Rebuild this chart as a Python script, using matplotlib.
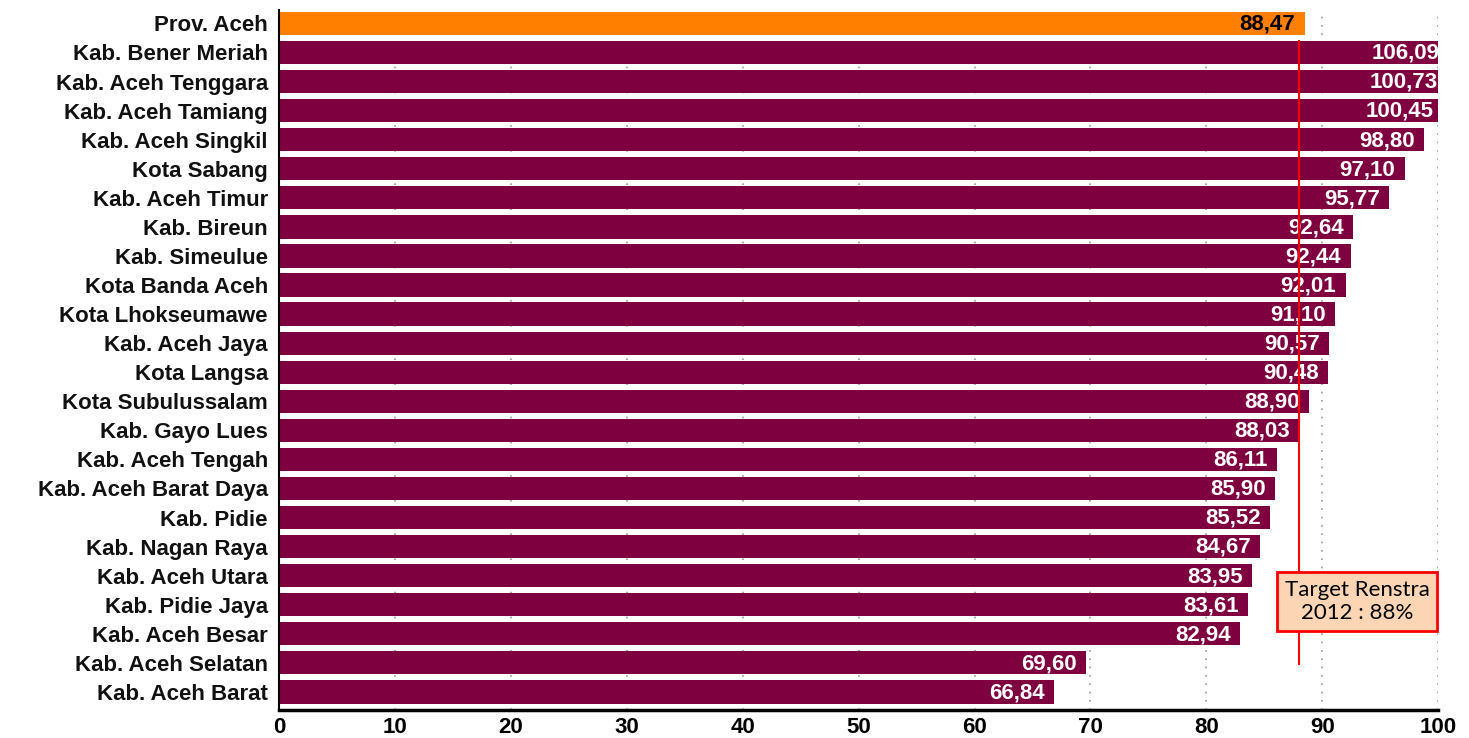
import matplotlib.pyplot as plt
import numpy as np

# data
regions = ['Prov. Aceh', 'Kab. Bener Meriah', 'Kab. Aceh Tenggara', 'Kab. Aceh Tamiang',
           'Kab. Aceh Singkil', 'Kota Sabang', 'Kab. Aceh Timur', 'Kab. Bireun',
           'Kab. Simeulue', 'Kota Banda Aceh', 'Kota Lhokseumawe', 'Kab. Aceh Jaya',
           'Kota Langsa', 'Kota Subulussalam', 'Kab. Gayo Lues', 'Kab. Aceh Tengah',
           'Kab. Aceh Barat Daya', 'Kab. Pidie', 'Kab. Nagan Raya', 'Kab. Aceh Utara',
           'Kab. Pidie Jaya', 'Kab. Aceh Besar', 'Kab. Aceh Selatan', 'Kab. Aceh Barat']
values = [88.47, 106.09, 100.73, 100.45, 98.80, 97.10, 95.77, 92.64, 92.44, 92.01,
          91.10, 90.57, 90.48, 88.90, 88.03, 86.11, 85.90, 85.52, 84.67, 83.95,
          83.61, 82.94, 69.60, 66.84]
target = 88
xticks = [0, 10, 20, 30, 40, 50, 60, 70, 80, 90, 100]

plt.rcParams['font.family'] = ['Liberation Sans', 'DejaVu Sans']

fig = plt.figure(figsize=(14.69, 7.38), dpi=100)
ax = fig.add_axes([0.19, 0.038, 0.789, 0.948])

y = np.arange(len(regions))
colors = ['#FF8000'] + ['#7F003F'] * (len(regions) - 1)
ax.barh(y, values, height=0.8, color=colors, zorder=2)

# value labels inside the bars (clipped at the right edge like the original)
for i, v in enumerate(values):
    txt = f'{v:.2f}'.replace('.', ',')
    c = 'black' if i == 0 else 'white'
    ax.text(min(v, 100.9) - 0.8, i + 0.03, txt, ha='right', va='center', color=c,
            fontsize=16, fontweight='bold', zorder=3, clip_on=True)

ax.set_xlim(0, 100)
ax.set_ylim(23.62, -0.45)
ax.set_yticks(y)
ax.set_yticklabels(regions, fontsize=16, fontweight='bold', color='#111111')
ax.set_xticks(xticks)
ax.set_xticklabels([str(t) for t in xticks], fontsize=16, fontweight='bold')
ax.tick_params(length=0, pad=5)
ax.tick_params(axis='y', pad=8)

ax.grid(axis='x', linestyle=(0, (1, 4)), color='#999999', linewidth=1.2, zorder=0)
ax.grid(axis='y', visible=False)
for s in ['top', 'right']:
    ax.spines[s].set_visible(False)
ax.spines['bottom'].set_linewidth(2.5)
ax.spines['left'].set_linewidth(1.5)

# target line and annotation
ax.vlines(target, 0.58, 22.06, color='#FF0000', linewidth=1.5, zorder=4)
ax.text(93.0, 19.9, 'Target Renstra\n2012 : 88%', ha='center', va='center',
        fontsize=16, family='Lato', linespacing=1.2, zorder=5, clip_on=False,
        bbox=dict(boxstyle='square,pad=0.35', facecolor='#FCD5B5', edgecolor='#FF0000', linewidth=2))

fig.savefig('out.png', dpi=100)
